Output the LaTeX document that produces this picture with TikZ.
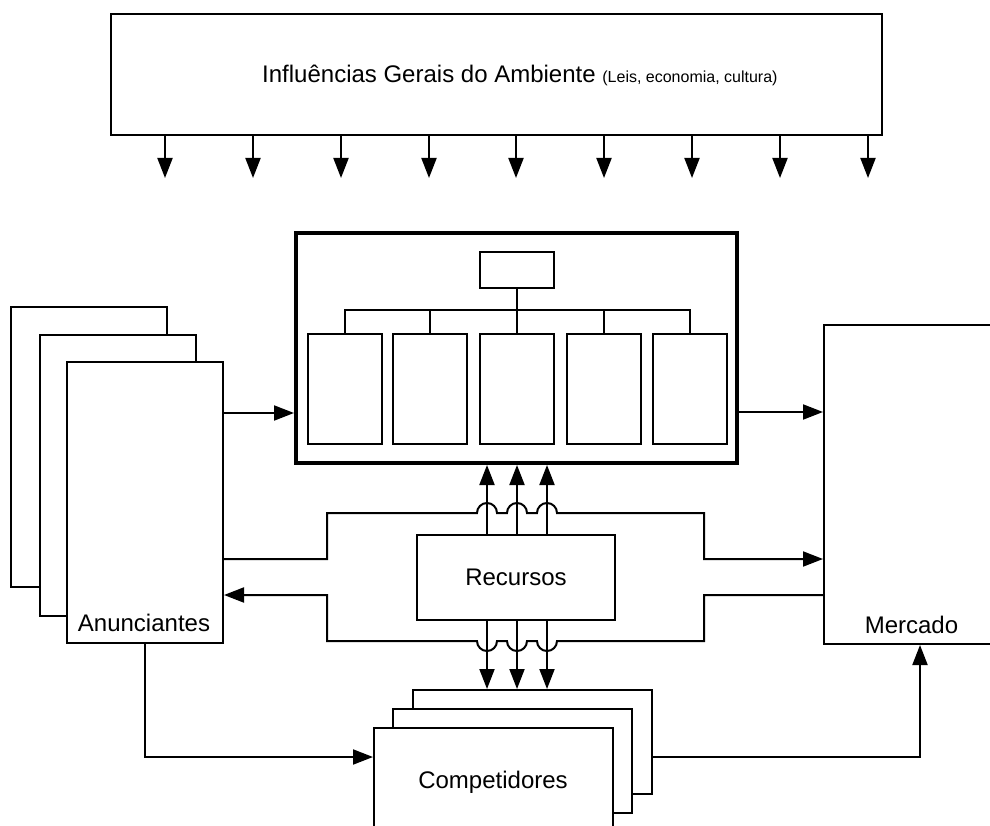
\documentclass[tikz,border=0pt]{standalone}
\usepackage{fontspec}
\setmainfont{Liberation Sans}
\usetikzlibrary{arrows.meta}
\begin{document}
\begin{tikzpicture}[x=1pt,y=1pt,
  box/.style={draw, line width=2pt, fill=white, inner sep=0pt, rectangle},
  arr/.style={line width=2pt, -{Triangle[length=20pt,width=15pt]}},
  ln/.style={line width=2pt},
  lbl/.style={inner sep=0pt, font=\fontsize{24}{28}\selectfont},
]
\useasboundingbox (0,0) rectangle (990,-826);
\clip (0,0) rectangle (990,-826);

% general influences
\node[box, minimum width=771pt, minimum height=121pt] (infl) at (496.5,-74.5) {};
\node[lbl, anchor=base west] (ttl) at (262,-83) {Influências Gerais do Ambiente {\fontsize{16}{19}\selectfont (Leis, economia, cultura)}};
\foreach \x [count=\i] in {165,253,341,429,516,604,692,780,868} {
  \coordinate (d\i) at (\x,-178);
  \draw[arr] (infl.south -| d\i) -- (d\i);
}

% main organisation box
\node[draw, line width=4pt, inner sep=0pt, minimum width=441pt, minimum height=230pt] (main) at (516.5,-348) {};
\node[box, minimum width=74pt, minimum height=36pt] (head) at (517,-270) {};
\foreach \x [count=\i] in {345,430,517,603.5,690} {
  \node[box, minimum width=74pt, minimum height=110pt] (s\i) at (\x,-389) {};
}
\coordinate (bus) at (517,-310);
\draw[ln] (head.south) -- (bus);
\draw[ln] (s1.north) -- (s1.north |- bus) -- (s5.north |- bus) -- (s5.north);
\foreach \i in {2,3,4} { \draw[ln] (s\i.north) -- (s\i.north |- bus); }

% Anunciantes
\node[box, minimum width=156pt, minimum height=280pt] (anB) at (89,-447) {};
\node[box, minimum width=156pt, minimum height=281pt] (anM) at (118,-475.5) {};
\node[box, minimum width=156pt, minimum height=281pt] (anF) at (145,-502.5) {};
\node[lbl, anchor=base] (anT) at (144,-631) {Anunciantes};

% Mercado
\node[box, minimum width=176pt, minimum height=319pt] (merc) at (912,-484.5) {};
\node[lbl, anchor=base] (meT) at (911.5,-633) {Mercado};

% Recursos
\node[box, lbl, minimum width=198pt, minimum height=85pt] (rec) at (516,-577.5) {Recursos};

% Competidores
\node[box, minimum width=239pt, minimum height=104pt] (cB) at (532.5,-742) {};
\node[box, minimum width=239pt, minimum height=104pt] (cM) at (512.5,-761) {};
\node[box, minimum width=239pt, minimum height=122pt] (cF) at (493.5,-789) {};
\node[lbl, anchor=base] (coT) at (493,-788) {Competidores};

% connectors
\draw[arr] (anF.east |- 0,-413) -- (main.west |- 0,-413);
\draw[arr] (main.east |- 0,-412) -- (merc.west |- 0,-412);
\foreach \x in {487,517,547} {
  \draw[arr] (rec.north -| \x,0) -- (main.south -| \x,0);
  \draw[arr] (rec.south -| \x,0) -- (cB.north -| \x,0);
}
\draw[arr] (anF.east |- 0,-559) -- (327,-559) -- (327,-513) -- (477,-513)
  arc[start angle=180, end angle=0, radius=10] -- (507,-513)
  arc[start angle=180, end angle=0, radius=10] -- (537,-513)
  arc[start angle=180, end angle=0, radius=10] -- (704,-513)
  -- (704,-559) -- (merc.west |- 0,-559);
\draw[arr] (merc.west |- 0,-595) -- (704,-595) -- (704,-641) -- (557,-641)
  arc[start angle=0, end angle=-180, radius=10] -- (527,-641)
  arc[start angle=0, end angle=-180, radius=10] -- (497,-641)
  arc[start angle=0, end angle=-180, radius=10] -- (327,-641)
  -- (327,-595) -- (anF.east |- 0,-595);
\draw[arr] (anF.south) |- (cF.west |- 0,-757);
\draw[arr] (cB.east |- 0,-757) -| (merc.south -| 920,0);
\end{tikzpicture}
\end{document}
